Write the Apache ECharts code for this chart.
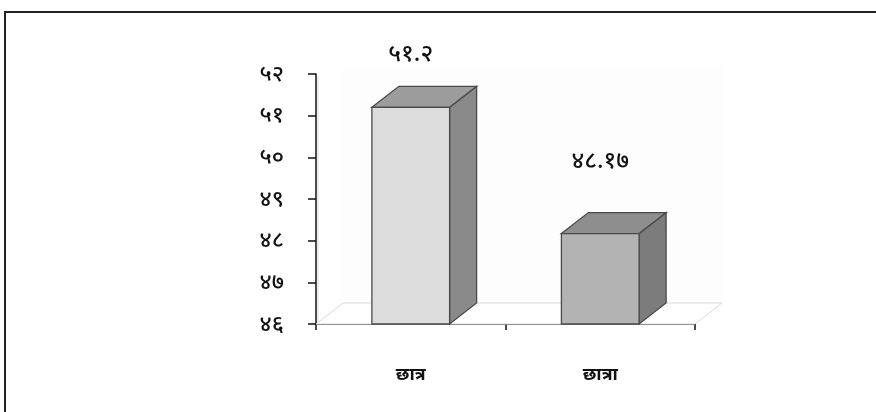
<!DOCTYPE html>
<html>
<head>
<meta charset="utf-8">
<script src="https://cdn.jsdelivr.net/npm/echarts@6/dist/echarts.min.js"></script>
<style>
  html, body { margin: 0; padding: 0; background: #fff; }
  #chart { width: 876px; height: 412px; }
</style>
</head>
<body>
<div id="chart"></div>
<script>
// data
const categories = ['छात्र', 'छात्रा'];
const values = [51.2, 48.17];
const valueLabels = ['५१.२', '४८.१७'];
const yTicks = [46, 47, 48, 49, 50, 51, 52];
const yTickLabels = ['४६', '४७', '४८', '४९', '५०', '५१', '५२'];

// look
const frontColors = ['#dcdcdc', '#b3b3b3'];
const topColors = ['#9c9c9c', '#8e8e8e'];
const sideColors = ['#8a8a8a', '#7c7c7c'];
const labelLift = [53, 72];
const DX = 27, DY = -21;
const FONT = "'Noto Sans', 'DejaVu Sans', sans-serif";

const chart = echarts.init(document.getElementById('chart'));

function renderFloor(params, api) {
  const a = api.coord([0, yTicks[0]]);
  const size = api.size([1, 0])[0];
  const x0 = a[0] - size / 2, x1 = a[0] + size * 1.5, y0 = a[1];
  const top = api.coord([0, yTicks[yTicks.length - 1]])[1];
  return {
    type: 'group',
    children: [
      { type: 'rect', shape: { x: x0 + DX, y: top + DY + 14, width: x1 - x0, height: y0 - top - 14 }, style: { fill: '#fdfdfd', stroke: null } },
      { type: 'line', shape: { x1: x0 + 2, y1: top + 2, x2: x0 + 2, y2: y0 }, style: { stroke: '#eeeeee', lineWidth: 2 } },
      { type: 'polygon', shape: { points: [[x0, y0], [x1, y0], [x1 + DX, y0 + DY], [x0 + DX, y0 + DY]] }, style: { fill: '#ffffff', stroke: '#dadada', lineWidth: 1 } }
    ]
  };
}

function renderBar(params, api) {
  const i = params.dataIndex;
  const t = api.coord([api.value(0), api.value(1)]);
  const b = api.coord([api.value(0), yTicks[0]]);
  const w = api.size([1, 0])[0] * 0.41;
  const l = t[0] - w / 2, r = t[0] + w / 2;
  const edge = '#4a4a4a';
  return {
    type: 'group',
    children: [
      { type: 'polygon', shape: { points: [[r, t[1]], [r + DX, t[1] + DY], [r + DX, b[1] + DY], [r, b[1]]] }, style: { fill: sideColors[i], stroke: edge, lineWidth: 1.3 } },
      { type: 'polygon', shape: { points: [[l, t[1]], [l + DX, t[1] + DY], [r + DX, t[1] + DY], [r, t[1]]] }, style: { fill: topColors[i], stroke: edge, lineWidth: 1.3 } },
      { type: 'rect', shape: { x: l, y: t[1], width: w, height: b[1] - t[1] }, style: { fill: frontColors[i], stroke: edge, lineWidth: 1.3 } },
      { type: 'text', x: t[0], y: t[1] - labelLift[i], style: { text: valueLabels[i], fill: '#111', font: '500 24px ' + FONT, align: 'center', verticalAlign: 'middle' } }
    ]
  };
}

const option = {
  animation: false,
  backgroundColor: '#fff',
  graphic: [
    { type: 'rect', shape: { x: 5, y: 12, width: 900, height: 420 }, style: { fill: 'none', stroke: '#222', lineWidth: 2 }, z: 100 }
  ],
  grid: { left: 316, right: 181, top: 74, bottom: 88 },
  xAxis: {
    type: 'category',
    data: categories,
    axisLine: { lineStyle: { color: '#111', width: 1.5 } },
    axisTick: { show: true, length: 6, lineStyle: { color: '#111', width: 1.5 } },
    axisLabel: { margin: 42, color: '#111', fontSize: 18, fontWeight: 'bold', fontFamily: FONT }
  },
  yAxis: {
    type: 'value',
    min: 46,
    max: 52,
    interval: 1,
    splitLine: { show: false },
    axisLine: { show: true, lineStyle: { color: '#111', width: 1.5 } },
    axisTick: { show: true, length: 8, lineStyle: { color: '#111', width: 1.5 } },
    axisLabel: {
      margin: 32,
      color: '#111',
      fontSize: 23,
      fontWeight: 500,
      fontFamily: FONT,
      formatter: v => yTickLabels[yTicks.indexOf(v)]
    }
  },
  series: [
    { type: 'custom', renderItem: renderFloor, data: [[0, yTicks[0]]], z: 1, silent: true },
    { type: 'custom', renderItem: renderBar, data: values.map((v, i) => [i, v]), z: 2 }
  ]
};
chart.setOption(option);
</script>
</body>
</html>
